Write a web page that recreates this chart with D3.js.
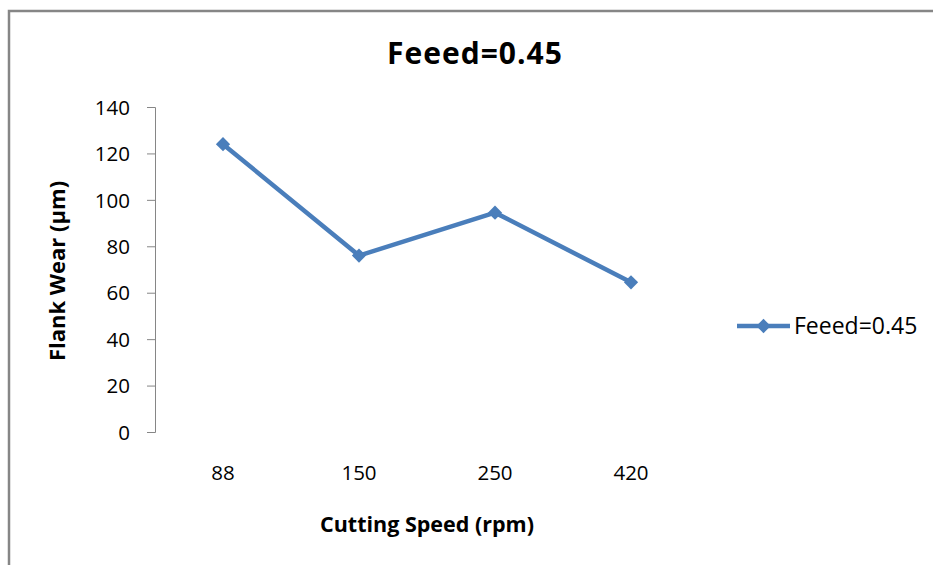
<!DOCTYPE html>
<html>
<head>
<meta charset="utf-8">
<script src="https://cdn.jsdelivr.net/npm/d3@7"></script>
<style>
  body { margin: 0; background: #fff; }
  text { font-family: "Open Sans", sans-serif; fill: #000; }
</style>
</head>
<body>
<div id="chart"></div>
<script>
// data
const speeds = ["88", "150", "250", "420"];
const flankWear = [124, 76, 94.5, 64.5];
const yTicks = [0, 20, 40, 60, 80, 100, 120, 140];
const seriesName = "Feeed=0.45";

const W = 933, H = 565;
const plot = { left: 155, right: 699, top: 107, bottom: 432 };
const blue = "#4a7ebb";

const svg = d3.select("#chart").append("svg")
  .attr("width", W).attr("height", H);

// chart frame (only top and left edges are visible)
svg.append("path")
  .attr("d", `M9,${H} V11 H${W}`)
  .attr("fill", "none")
  .attr("stroke", "#868686")
  .attr("stroke-width", 2.5);

const x = d3.scaleBand().domain(speeds).range([plot.left, plot.right]).padding(0);
const y = d3.scaleLinear().domain([0, 140]).range([plot.bottom, plot.top]);

// y axis
const yAxis = svg.append("g")
  .attr("transform", `translate(${plot.left},0)`)
  .call(d3.axisLeft(y).tickValues(yTicks).tickSize(8).tickPadding(17));
yAxis.select(".domain").attr("stroke", "#868686");
yAxis.selectAll(".tick line").attr("stroke", "#868686");
yAxis.selectAll(".tick text").style("font-size", "20.5px").attr("dy", "0.35em");

// category labels (no axis line drawn in the original)
svg.append("g")
  .selectAll("text")
  .data(speeds)
  .join("text")
  .attr("x", (d) => x(d) + x.bandwidth() / 2)
  .attr("y", 480)
  .attr("text-anchor", "middle")
  .style("font-size", "20.5px")
  .text((d) => d);

// titles
svg.append("text")
  .attr("x", 475).attr("y", 64)
  .attr("text-anchor", "middle")
  .style("font-size", "30px").style("font-weight", "bold")
  .style("letter-spacing", "1px")
  .text(seriesName);

svg.append("text")
  .attr("x", 427).attr("y", 532)
  .attr("text-anchor", "middle")
  .style("font-size", "21.5px").style("font-weight", "bold")
  .text("Cutting Speed (rpm)");

svg.append("text")
  .attr("transform", "translate(65,271) rotate(-90)")
  .attr("text-anchor", "middle")
  .style("font-size", "22px").style("font-weight", "bold")
  .text("Flank Wear (µm)");

// series
const pts = speeds.map((s, i) => [x(s) + x.bandwidth() / 2, y(flankWear[i])]);

svg.append("path")
  .datum(pts)
  .attr("d", d3.line())
  .attr("fill", "none")
  .attr("stroke", blue)
  .attr("stroke-width", 4.5)
  .attr("stroke-linejoin", "round");

const diamond = d3.symbol().type(d3.symbolDiamond2).size(130);
svg.append("g")
  .selectAll("path")
  .data(pts)
  .join("path")
  .attr("transform", (d) => `translate(${d[0]},${d[1]})`)
  .attr("d", diamond)
  .attr("fill", blue);

// legend
const legend = svg.append("g").attr("transform", "translate(737,326)");
legend.append("line")
  .attr("x1", 0).attr("x2", 53)
  .attr("stroke", blue).attr("stroke-width", 4.5);
legend.append("path")
  .attr("transform", "translate(26.5,0)")
  .attr("d", diamond)
  .attr("fill", blue);
legend.append("text")
  .attr("x", 57).attr("y", 0).attr("dy", "0.35em")
  .style("font-size", "23px")
  .text(seriesName);
</script>
</body>
</html>
